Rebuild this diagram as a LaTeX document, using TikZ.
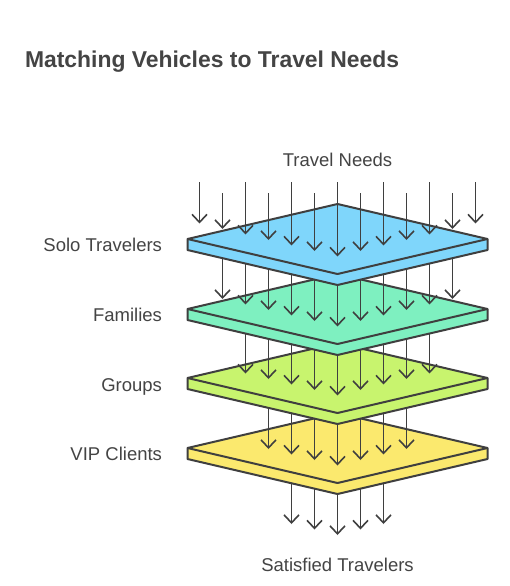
\documentclass[tikz,border=0pt]{standalone}
\usepackage{fontspec}
\setmainfont{Liberation Sans}
\usetikzlibrary{arrows.meta}
\definecolor{inkgray}{HTML}{444444}
\definecolor{linegray}{HTML}{3F3F3F}
\definecolor{soloblue}{HTML}{7FD6FB}
\definecolor{familygreen}{HTML}{7EF0C0}
\definecolor{grouplime}{HTML}{C8F46E}
\definecolor{vipyellow}{HTML}{FBE96E}

\begin{document}
\begin{tikzpicture}[y=1pt, x=1pt, yscale=-1, inner sep=0pt, outer sep=0pt,
  plate/.style={draw=linegray, line width=2pt, line join=round},
  flow/.style={draw=linegray, line width=1.6pt,
    -{Straight Barb[length=8pt,width=15pt,line width=1.6pt]}},
  label/.style={text=inkgray, font=\fontsize{18.5}{21}\selectfont}]
\useasboundingbox (0,0) rectangle (509,586);
\path[fill=white] (0,0) rectangle (509,586);
\path (25,67.5) node[anchor=base west, text=inkgray,
  font=\fontsize{22.9}{27}\selectfont\bfseries] (title)
  {Matching Vehicles to Travel Needs};
\path (337.5,166) node[anchor=base, label] (needs) {Travel Needs};
\path (162,251.5) node[anchor=base east, label] (solo) {Solo Travelers};
\path (162,321.5) node[anchor=base east, label] (families) {Families};
\path (162,391) node[anchor=base east, label] (groups) {Groups};
\path (162,460) node[anchor=base east, label] (vip) {VIP Clients};
\path (337.5,571) node[anchor=base, label] (satisfied)
  {Satisfied Travelers};
% out of the last layer
\path[flow] (291.5,448) -- (291.5,524);
\path[flow] (314.5,448) -- (314.5,529.5);
\path[flow] (337.5,448) -- (337.5,535);
\path[flow] (360.5,448) -- (360.5,529.5);
\path[flow] (383.5,448) -- (383.5,524);
% VIP Clients
\path[plate, fill=vipyellow] (187.5,448) -- (337.5,413) -- (487.5,448)
  -- (487.5,459) -- (337.5,494) -- (187.5,459) -- cycle;
\path[plate] (187.5,448) -- (337.5,483) -- (487.5,448);
\path[flow] (268.5,378) -- (268.5,449);
\path[flow] (291.5,378) -- (291.5,454.5);
\path[flow] (314.5,378) -- (314.5,460);
\path[flow] (337.5,378) -- (337.5,465.5);
\path[flow] (360.5,378) -- (360.5,460);
\path[flow] (383.5,378) -- (383.5,454.5);
\path[flow] (406.5,378) -- (406.5,449);
% Groups
\path[plate, fill=grouplime] (187.5,378) -- (337.5,343) -- (487.5,378)
  -- (487.5,389) -- (337.5,424) -- (187.5,389) -- cycle;
\path[plate] (187.5,378) -- (337.5,413) -- (487.5,378);
\path[flow] (245.5,309) -- (245.5,373.5);
\path[flow] (268.5,309) -- (268.5,379);
\path[flow] (291.5,309) -- (291.5,384.5);
\path[flow] (314.5,309) -- (314.5,390);
\path[flow] (337.5,309) -- (337.5,395.5);
\path[flow] (360.5,309) -- (360.5,390);
\path[flow] (383.5,309) -- (383.5,384.5);
\path[flow] (406.5,309) -- (406.5,379);
\path[flow] (429.5,309) -- (429.5,373.5);
% Families
\path[plate, fill=familygreen] (187.5,309) -- (337.5,274) -- (487.5,309)
  -- (487.5,320) -- (337.5,355) -- (187.5,320) -- cycle;
\path[plate] (187.5,309) -- (337.5,344) -- (487.5,309);
\path[flow] (222.5,239) -- (222.5,299);
\path[flow] (245.5,239) -- (245.5,304.5);
\path[flow] (268.5,239) -- (268.5,310);
\path[flow] (291.5,239) -- (291.5,315.5);
\path[flow] (314.5,239) -- (314.5,321);
\path[flow] (337.5,239) -- (337.5,326.5);
\path[flow] (360.5,239) -- (360.5,321);
\path[flow] (383.5,239) -- (383.5,315.5);
\path[flow] (406.5,239) -- (406.5,310);
\path[flow] (429.5,239) -- (429.5,304.5);
\path[flow] (452.5,239) -- (452.5,299);
% Solo Travelers
\path[plate, fill=soloblue] (187.5,239) -- (337.5,204) -- (487.5,239)
  -- (487.5,250) -- (337.5,285) -- (187.5,250) -- cycle;
\path[plate] (187.5,239) -- (337.5,274) -- (487.5,239);
\path[flow] (199.5,182) -- (199.5,223.5);
\path[flow] (222.5,193) -- (222.5,229);
\path[flow] (245.5,182) -- (245.5,234.5);
\path[flow] (268.5,193) -- (268.5,240);
\path[flow] (291.5,182) -- (291.5,245.5);
\path[flow] (314.5,193) -- (314.5,251);
\path[flow] (337.5,182) -- (337.5,256.5);
\path[flow] (360.5,193) -- (360.5,251);
\path[flow] (383.5,182) -- (383.5,245.5);
\path[flow] (406.5,193) -- (406.5,240);
\path[flow] (429.5,182) -- (429.5,234.5);
\path[flow] (452.5,193) -- (452.5,229);
\path[flow] (475.5,182) -- (475.5,223.5);

\end{tikzpicture}
\end{document}
